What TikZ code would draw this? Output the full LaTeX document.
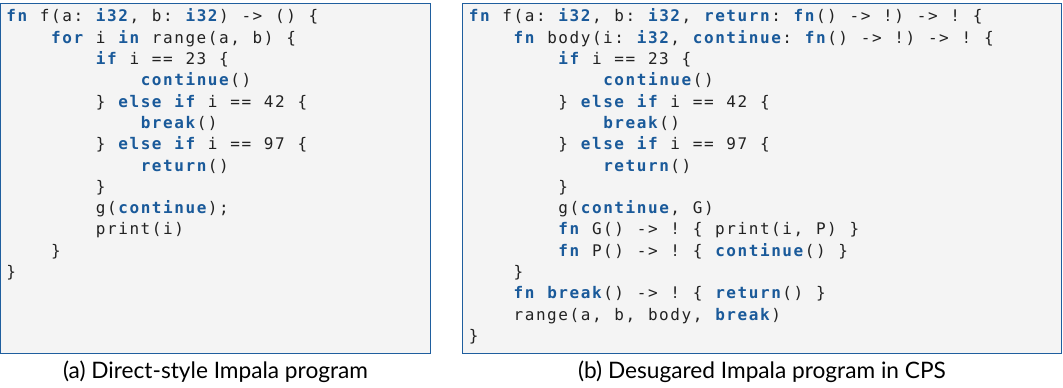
\documentclass[tikz,border=0pt]{standalone}
\usepackage{fontspec}
\newfontfamily\codefont{DejaVu Sans Mono}
\newfontfamily\capfont{Lato}
\definecolor{kwblue}{HTML}{1A5A9A}
\definecolor{framec}{HTML}{1F5E9E}
\definecolor{bgc}{HTML}{F4F4F4}
\definecolor{txtc}{HTML}{222222}
\newcommand{\clsp}{}
\ExplSyntaxOn
\bool_new:N \l__cl_kw_bool
\tl_new:N \l__cl_tl
\NewDocumentCommand \cl { m }
  {
    \tl_set:Nn \l__cl_tl {#1}
    \tl_replace_all:Nnn \l__cl_tl { ~ } { \clsp }
    \bool_set_false:N \l__cl_kw_bool
    \tl_map_inline:Nn \l__cl_tl
      {
        \tl_if_eq:nnTF {##1} { | }
          {
            \bool_if:NTF \l__cl_kw_bool
              { \bool_set_false:N \l__cl_kw_bool }
              { \bool_set_true:N \l__cl_kw_bool }
          }
          {
            \makebox[8.4pt][c]
              { \bool_if:NTF \l__cl_kw_bool { \bfseries \color{kwblue} ##1 } { ##1 } }
          }
      }
  }
\ExplSyntaxOff
\tikzset{
  codebox/.style={draw=framec, fill=bgc, line width=0.9pt},
  codeline/.style={anchor=base west, inner sep=0pt, text=txtc, font=\fontsize{12}{14}\codefont},
  captext/.style={anchor=base, inner sep=0pt, text=black, font=\fontsize{17}{19}\capfont},
}
\begin{document}
\begin{tikzpicture}[x=0.75pt,y=-0.75pt]
\useasboundingbox (0,0) rectangle (1063,388);
\draw[codebox] (0.5,3.3) rectangle (430.5,353.3);
\draw[codebox] (462.5,3.3) rectangle (1061.5,353.3);
% left listing
\def\lx{5.3}
\def\pw{11.2}
\def\ly{22}
\def\lh{21.3}
\node[codeline] (a0)  at ({\lx+0*\pw},{\ly+0*\lh})  {\cl{|fn| f(a: |i32|, b: |i32|) -> () \{}};
\node[codeline] (a1)  at ({\lx+4*\pw},{\ly+1*\lh})  {\cl{|for| i |in| range(a, b) \{}};
\node[codeline] (a2)  at ({\lx+8*\pw},{\ly+2*\lh})  {\cl{|if| i == 23 \{}};
\node[codeline] (a3)  at ({\lx+12*\pw},{\ly+3*\lh}) {\cl{|continue|()}};
\node[codeline] (a4)  at ({\lx+8*\pw},{\ly+4*\lh})  {\cl{\} |else| |if| i == 42 \{}};
\node[codeline] (a5)  at ({\lx+12*\pw},{\ly+5*\lh}) {\cl{|break|()}};
\node[codeline] (a6)  at ({\lx+8*\pw},{\ly+6*\lh})  {\cl{\} |else| |if| i == 97 \{}};
\node[codeline] (a7)  at ({\lx+12*\pw},{\ly+7*\lh}) {\cl{|return|()}};
\node[codeline] (a8)  at ({\lx+8*\pw},{\ly+8*\lh})  {\cl{\}}};
\node[codeline] (a9)  at ({\lx+8*\pw},{\ly+9*\lh})  {\cl{g(|continue|);}};
\node[codeline] (a10) at ({\lx+8*\pw},{\ly+10*\lh}) {\cl{print(i)}};
\node[codeline] (a11) at ({\lx+4*\pw},{\ly+11*\lh}) {\cl{\}}};
\node[codeline] (a12) at ({\lx+0*\pw},{\ly+12*\lh}) {\cl{\}}};
% right listing
\def\rx{467.8}
\node[codeline] (b0)  at ({\rx+0*\pw},{\ly+0*\lh})  {\cl{|fn| f(a: |i32|, b: |i32|, |return|: |fn|() -> !) -> ! \{}};
\node[codeline] (b1)  at ({\rx+4*\pw},{\ly+1*\lh})  {\cl{|fn| body(i: |i32|, |continue|: |fn|() -> !) -> ! \{}};
\node[codeline] (b2)  at ({\rx+8*\pw},{\ly+2*\lh})  {\cl{|if| i == 23 \{}};
\node[codeline] (b3)  at ({\rx+12*\pw},{\ly+3*\lh}) {\cl{|continue|()}};
\node[codeline] (b4)  at ({\rx+8*\pw},{\ly+4*\lh})  {\cl{\} |else| |if| i == 42 \{}};
\node[codeline] (b5)  at ({\rx+12*\pw},{\ly+5*\lh}) {\cl{|break|()}};
\node[codeline] (b6)  at ({\rx+8*\pw},{\ly+6*\lh})  {\cl{\} |else| |if| i == 97 \{}};
\node[codeline] (b7)  at ({\rx+12*\pw},{\ly+7*\lh}) {\cl{|return|()}};
\node[codeline] (b8)  at ({\rx+8*\pw},{\ly+8*\lh})  {\cl{\}}};
\node[codeline] (b9)  at ({\rx+8*\pw},{\ly+9*\lh})  {\cl{g(|continue|, G)}};
\node[codeline] (b10) at ({\rx+8*\pw},{\ly+10*\lh}) {\cl{|fn| G() -> ! \{ print(i, P) \}}};
\node[codeline] (b11) at ({\rx+8*\pw},{\ly+11*\lh}) {\cl{|fn| P() -> ! \{ |continue|() \}}};
\node[codeline] (b12) at ({\rx+4*\pw},{\ly+12*\lh}) {\cl{\}}};
\node[codeline] (b13) at ({\rx+4*\pw},{\ly+13*\lh}) {\cl{|fn| |break|() -> ! \{ |return|() \}}};
\node[codeline] (b14) at ({\rx+4*\pw},{\ly+14*\lh}) {\cl{range(a, b, body, |break|)}};
\node[codeline] (b15) at ({\rx+0*\pw},{\ly+15*\lh}) {\cl{\}}};
% captions
\node[captext] (capa) at (215.5,378) {(a) Direct-style Impala program};
\node[captext] (capb) at (762,378) {(b) Desugared Impala program in CPS};
\end{tikzpicture}
\end{document}
